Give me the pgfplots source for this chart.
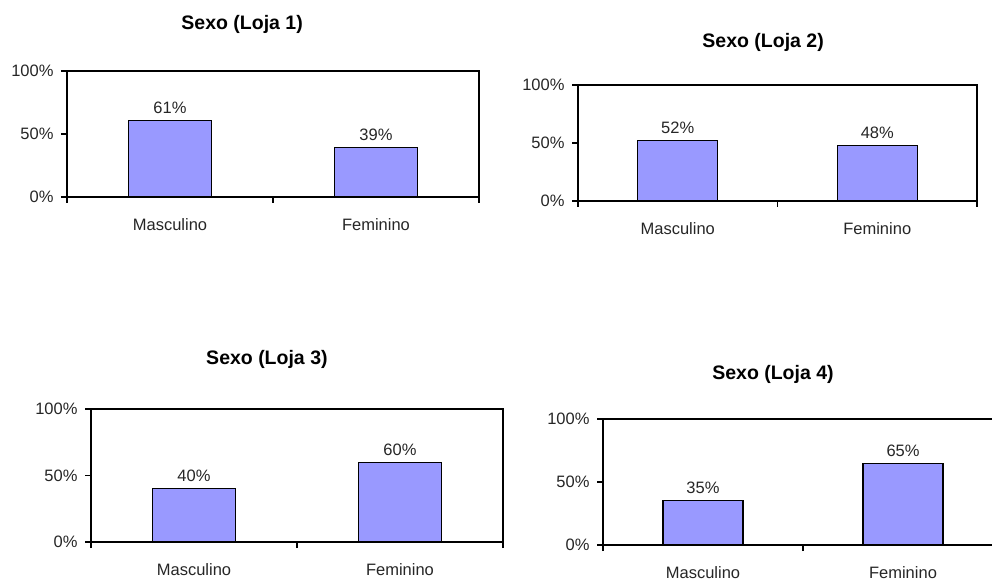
\documentclass[border=0pt]{standalone}
\usepackage{fontspec}
\setmainfont{Liberation Sans}
\usepackage{pgfplots}
\pgfplotsset{compat=1.18}

\definecolor{barblue}{RGB}{153,153,255}
\newcommand\lab{\fontsize{16.5}{19}\selectfont}
\newcommand\ttl{\fontsize{19.5}{23}\selectfont\bfseries}

\pgfplotsset{
  sexo/.style={
    scale only axis, anchor=south west,
    ybar, bar width=0.4,
    xmin=-0.5, xmax=1.5, ymin=0, ymax=100,
    xtick={-0.5,0.5,1.5}, xticklabels={},
    extra x ticks={0,1},
    extra x tick labels={Masculino,Feminino},
    extra x tick style={major tick length=0pt,
      tick label style={yshift=-18pt}},
    ytick={0,50,100},
    yticklabel={\pgfmathprintnumber{\tick}\%},
    yticklabel style={xshift=-4pt},
    /pgf/number format/assume math mode=true,
    tick label style={font=\lab, text=black!85},
    tick align=outside, tick pos=left, major tick length=6pt,
    axis line style={line width=1.4pt},
    every tick/.style={line width=1.3pt, black},
    title style={font=\ttl, anchor=center},
    nodes near coords={\pgfmathprintnumber{\pgfplotspointmeta}\%},
    nodes near coords style={font=\lab, text=black!85, yshift=3pt},
    cycle list={{fill=barblue, draw=black, line width=1.1pt}},
  }
}

\begin{document}
\begin{tikzpicture}[x=1pt,y=1pt]
\useasboundingbox (0,0) rectangle (992,581);
\clip (0,0) rectangle (992,581);

% Loja 1
\begin{axis}[sexo, at={(67pt,384pt)}, width=412pt, height=126pt,
  title={Sexo (Loja 1)},
  title style={at={(axis description cs:0.425,1)}, yshift=41pt}]
\addplot[fill=barblue, draw=black, line width=1.1pt] coordinates {(0,61) (1,39)};
\end{axis}

% Loja 2
\begin{axis}[sexo, at={(578pt,380pt)}, width=399pt, height=116pt,
  title={Sexo (Loja 2)},
  title style={at={(axis description cs:0.464,1)}, yshift=37pt}]
\addplot[fill=barblue, draw=black, line width=1.1pt] coordinates {(0,52) (1,48)};
\end{axis}

% Loja 3
\begin{axis}[sexo, at={(91pt,39pt)}, width=412pt, height=133pt,
  title={Sexo (Loja 3)},
  title style={at={(axis description cs:0.427,1)}, yshift=44pt}]
\addplot[fill=barblue, draw=black, line width=1.1pt] coordinates {(0,40) (1,60)};
\end{axis}

% Loja 4
\begin{axis}[sexo, at={(603pt,36pt)}, width=400pt, height=126pt,
  title={Sexo (Loja 4)},
  title style={at={(axis description cs:0.425,1)}, yshift=39pt}]
\addplot[fill=barblue, draw=black, line width=1.1pt] coordinates {(0,35) (1,65)};
\end{axis}
\end{tikzpicture}
\end{document}
